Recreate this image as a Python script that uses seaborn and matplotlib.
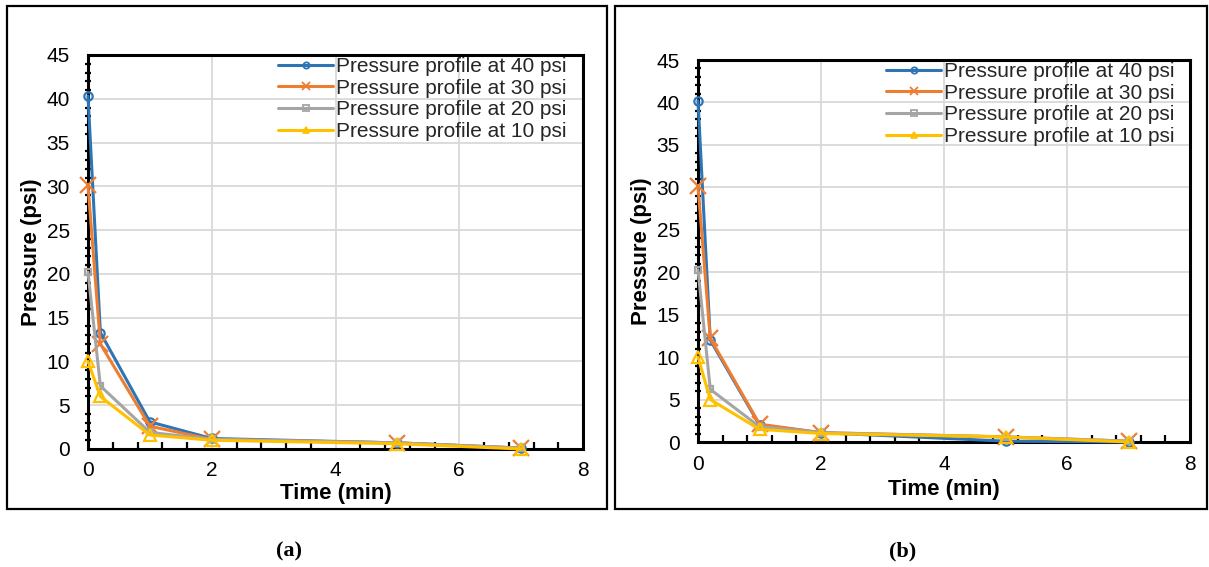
import matplotlib
matplotlib.use("Agg")
import matplotlib.pyplot as plt
from matplotlib.patches import Rectangle
from matplotlib.ticker import MultipleLocator
import seaborn as sns

# Time points (min)
time_min = [0, 0.2, 1, 2, 5, 7]

# Panel (a) pressure profiles (psi)
p40_a = [40.3, 13.3, 3.1, 1.2, 0.7, 0.1]
p30_a = [30.1, 12.0, 2.6, 1.1, 0.7, 0.1]
p20_a = [20.2, 7.2, 1.9, 1.1, 0.7, 0.1]
p10_a = [10.0, 6.0, 1.6, 1.0, 0.6, 0.0]

# Panel (b) pressure profiles (psi)
p40_b = [40.2, 12.0, 2.0, 1.1, 0.1, 0.0]
p30_b = [30.1, 12.2, 2.1, 1.1, 0.6, 0.1]
p20_b = [20.3, 6.2, 1.8, 1.1, 0.6, 0.1]
p10_b = [10.0, 5.0, 1.5, 1.0, 0.6, 0.0]

series_labels = ["Pressure profile at 40 psi", "Pressure profile at 30 psi",
                 "Pressure profile at 20 psi", "Pressure profile at 10 psi"]
panel_labels = ["(a)", "(b)"]

colors = ["#2E75B6", "#ED7D31", "#A5A5A5", "#FFC000"]
markers = ["o", "x", "s", "^"]
msizes = [6, 11, 5, 8]
legend_msizes = [4.5, 6, 4.5, 5]

sns.set_theme(style="white")
plt.rcParams["font.family"] = ["Liberation Sans", "DejaVu Sans"]

W, H = 1209, 567
fig = plt.figure(figsize=(W / 100, H / 100), dpi=100)


def px_axes(x0, x1, y0, y1):
    return fig.add_axes([x0 / W, 1 - y1 / H, (x1 - x0) / W, (y1 - y0) / H])


panels = [
    dict(data=[p40_a, p30_a, p20_a, p10_a], box=(88, 583, 55, 449),
         leg_xy=(278, 57), label_x=289, xlabelpad=2),
    dict(data=[p40_b, p30_b, p20_b, p10_b], box=(698, 1190, 60, 442),
         leg_xy=(886, 62), label_x=903, xlabelpad=4),
]

for i, panel in enumerate(panels):
    ax = px_axes(*panel["box"])
    for vals, lab, c, m, ms in zip(panel["data"], series_labels, colors, markers, msizes):
        sns.lineplot(x=time_min, y=vals, ax=ax, color=c, lw=2.2, marker=m,
                     markersize=ms, markerfacecolor="none", markeredgecolor=c,
                     markeredgewidth=1.6, label=lab, clip_on=False, zorder=3)
    ax.set_xlim(0, 8)
    ax.set_ylim(0, 45)
    ax.xaxis.set_major_locator(MultipleLocator(2))
    ax.xaxis.set_minor_locator(MultipleLocator(0.4))
    ax.yaxis.set_major_locator(MultipleLocator(5))
    ax.yaxis.set_minor_locator(MultipleLocator(1))
    ax.grid(True, which="major", color="#D9D9D9", lw=1.3)
    ax.set_axisbelow(True)
    for s in ax.spines.values():
        s.set_visible(True)
        s.set_color("black")
        s.set_linewidth(2.2)
    ax.tick_params(axis="both", which="major", direction="inout", length=10,
                   width=2, color="black", labelsize=15, labelcolor="black")
    ax.tick_params(axis="y", which="major", pad=8)
    ax.tick_params(axis="x", which="major", pad=4)
    ax.tick_params(axis="x", which="minor", direction="in", length=5, width=1.6,
                   color="black", bottom=True)
    ax.tick_params(axis="y", which="minor", direction="inout", length=5, width=1.6,
                   color="black", left=True)
    ax.set_xlabel("Time (min)", fontsize=16, fontweight="bold", color="black",
                  labelpad=panel["xlabelpad"])
    ax.set_ylabel("Pressure (psi)", fontsize=16, fontweight="bold", color="black", labelpad=3)
    lx, ly = panel["leg_xy"]
    leg = ax.legend(loc="upper left", bbox_to_anchor=(lx / W, 1 - ly / H),
                    bbox_transform=fig.transFigure, frameon=False,
                    fontsize=15, handlelength=2.65, handletextpad=0.15,
                    labelspacing=0.13, borderpad=0, borderaxespad=0)
    for h, lms in zip(leg.legend_handles, legend_msizes):
        h.set_markersize(lms)
        h.set_markeredgewidth(1.3)
        h.set_markerfacecolor("none")
    fig.text(panel["label_x"] / W, 1 - 551 / H, panel_labels[i],
             fontsize=16, fontweight="bold", family="Liberation Serif",
             ha="center", va="center", color="black")

# Frames around each panel
for x0, x1 in [(7, 607), (615, 1207)]:
    fig.patches.append(Rectangle((x0 / W, 1 - 509 / H), (x1 - x0) / W, (509 - 6) / H,
                                 transform=fig.transFigure, fill=False,
                                 edgecolor="black", lw=1.6))

fig.savefig("out.png", dpi=100, facecolor="white")
